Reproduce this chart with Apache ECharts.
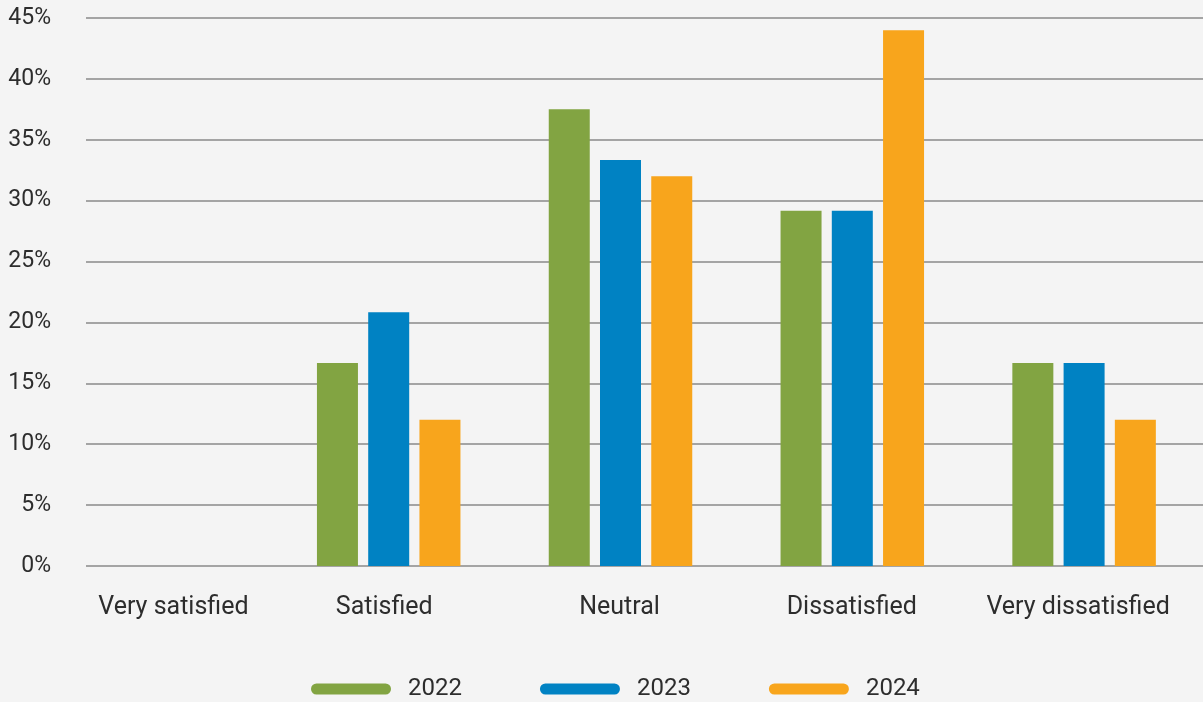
<!DOCTYPE html>
<html>
<head>
<meta charset="utf-8">
<script src="https://cdn.jsdelivr.net/npm/echarts@6/dist/echarts.min.js"></script>
<style>
html,body{margin:0;padding:0;background:#f4f4f4;}
#chart{width:1203px;height:702px;}
</style>
</head>
<body>
<div id="chart"></div>
<script>
var categories = ['Very satisfied', 'Satisfied', 'Neutral', 'Dissatisfied', 'Very dissatisfied'];
var years = ['2022', '2023', '2024'];
var values2022 = [0, 16.67, 37.5, 29.17, 16.67];
var values2023 = [0, 20.83, 33.33, 29.17, 16.67];
var values2024 = [0, 12, 32, 44, 12];
var yTicks = { min: 0, max: 45, interval: 5 };

var colors = ['#82a442', '#0082c3', '#f8a51c'];
var labelNudge = { 'Very satisfied': 33, 'Satisfied': -9, 'Neutral': -2, 'Dissatisfied': -1, 'Very dissatisfied': -12 };
var fontFamily = 'Roboto, "DejaVu Sans", sans-serif';
var textColor = '#2d2d2d';
var pillIcon = 'path://M5.5,0 H74.5 A5.5,5.5 0 0 1 74.5,11 H5.5 A5.5,5.5 0 0 1 5.5,0 Z';

var chart = echarts.init(document.getElementById('chart'), null, { renderer: 'canvas' });
var seriesData = [values2022, values2023, values2024];

chart.setOption({
  backgroundColor: '#f4f4f4',
  animation: false,
  grid: [
    { left: 41, right: 3, top: 18, bottom: 136 },
    { left: 86, right: 0, top: 18, bottom: 136 }
  ],
  legend: {
    data: years,
    top: 672,
    left: 306,
    icon: pillIcon,
    itemWidth: 80,
    itemHeight: 11,
    itemGap: 78,
    textStyle: { fontFamily: fontFamily, fontSize: 24, color: textColor, padding: [0, 0, 0, 12] }
  },
  xAxis: [
    {
      type: 'category', gridIndex: 0,
      data: categories.map(function (c) {
        var n = labelNudge[c] || 0;
        var pad = n >= 0 ? [0, 0, 0, n] : [0, -n, 0, 0];
        return { value: c, textStyle: { padding: pad } };
      }),
      axisLine: { show: false }, axisTick: { show: false },
      axisLabel: { interval: 0, hideOverlap: false, fontFamily: fontFamily, fontSize: 25, color: textColor, margin: 29 }
    },
    { type: 'value', gridIndex: 1, show: false, min: 0, max: 1 }
  ],
  yAxis: [
    { type: 'value', gridIndex: 0, min: yTicks.min, max: yTicks.max, interval: yTicks.interval, show: false },
    {
      type: 'value', gridIndex: 1, min: yTicks.min, max: yTicks.max, interval: yTicks.interval,
      axisLine: { show: false }, axisTick: { show: false },
      splitLine: { show: true, lineStyle: { color: '#8a8a8a', width: 1.5 } },
      axisLabel: { formatter: '{value}%', fontFamily: fontFamily, fontSize: 23, color: textColor, margin: 35 }
    }
  ],
  series: years.map(function (y, i) {
    return {
      name: y, type: 'bar', xAxisIndex: 0, yAxisIndex: 0,
      data: seriesData[i],
      barWidth: 41, barGap: '25%',
      itemStyle: { color: colors[i] }
    };
  })
});
</script>
</body>
</html>
